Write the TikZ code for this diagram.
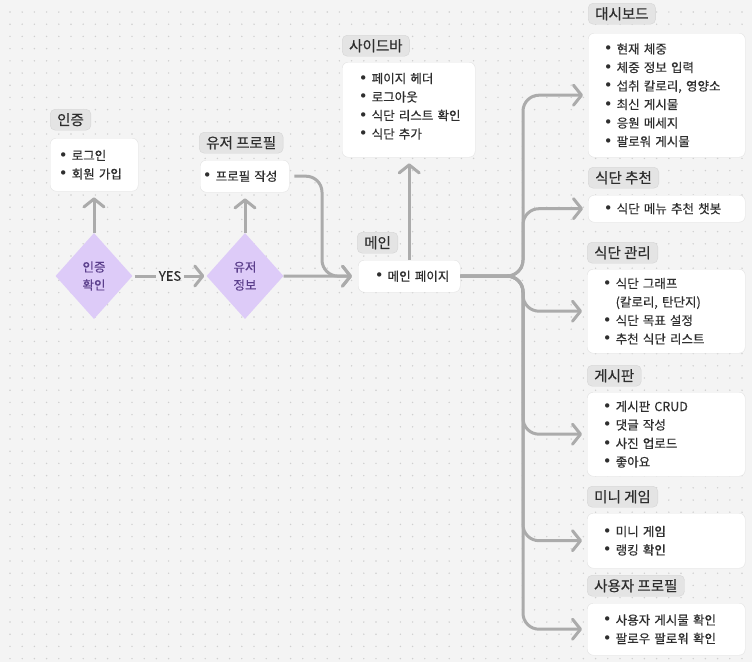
\documentclass[tikz,border=0pt]{standalone}
\usepackage{fontspec}
\setmainfont{Noto Sans CJK KR}[FakeBold=0.4]
\newfontfamily\dotfont{DejaVu Sans}
\usetikzlibrary{shapes.geometric,arrows.meta}
\definecolor{bgc}{HTML}{F4F4F4}
\definecolor{dotc}{HTML}{CFCFCF}
\definecolor{hdrfill}{HTML}{E4E4E4}
\definecolor{hdrline}{HTML}{D5D5D5}
\definecolor{boxline}{HTML}{E2E2E2}
\definecolor{txt}{HTML}{2E2E2E}
\definecolor{lnc}{HTML}{ABABAB}
\definecolor{decfill}{HTML}{DDCBF8}
\definecolor{dectxt}{HTML}{5B3F8C}
\newcommand{\itm}[1]{\mbox{\makebox[0pt]{\dotfont\fontsize{15}{10}\selectfont •}\hspace{8.5pt}#1}}
\begin{document}
\begin{tikzpicture}[x=1pt, y=-1pt,
	hdr/.style={draw=hdrline, fill=hdrfill, rounded corners=5pt, anchor=north west, inner xsep=7pt, inner ysep=0pt, minimum height=21pt, text=txt, font=\fontsize{14.5}{16}\selectfont},
	cbox/.style={draw=boxline, fill=white, rounded corners=6pt, anchor=north west, align=left, inner ysep=0pt, text=txt, font=\fontsize{12.5}{18.5}\selectfont},
	dec/.style={diamond, fill=decfill, text=dectxt, minimum width=77pt, minimum height=86pt, inner sep=0pt, align=center, font=\fontsize{12.5}{18}\selectfont},
	conn/.style={draw=lnc, line width=3pt, rounded corners=16pt, -{Straight Barb[length=8pt,width=20pt,round]}},
	plain/.style={draw=lnc, line width=3pt}]
	\fill[bgc] (0,0) rectangle (752,662);
	\useasboundingbox (0,0) rectangle (752,662);
	\foreach \i in {0,...,61}
		\foreach \j in {0,...,54}
			\fill[dotc] ({10+12.2*\i},{12+12.2*\j}) circle (0.8pt);
	\node[hdr] (authhdr) at (50,109) {인증};
	\node[cbox, inner xsep=13pt, text width=62pt, minimum height=53pt] (authbox) at (50,138) {\itm{로그인}\\\itm{회원 가입}};
	\node[hdr] (profhdr) at (199,132) {유저 프로필};
	\node[cbox, inner xsep=7pt, text width=75pt, minimum height=32pt] (profbox) at (200,160) {\itm{프로필 작성}};
	\node[hdr] (sidehdr) at (342,35) {사이드바};
	\node[cbox, inner xsep=21pt, text width=91pt, minimum height=95pt] (sidebox) at (342,62) {\itm{페이지 헤더}\\\itm{로그아웃}\\\itm{식단 리스트 확인}\\\itm{식단 추가}\\[-10.5pt]\mbox{}};
	\node[hdr] (mainhdr) at (357,232) {메인};
	\node[cbox, inner xsep=21pt, text width=60pt, minimum height=32pt] (mainbox) at (358,260) {\itm{메인 페이지}};
	\node[dec] (authchk) at (94,276) {인증\\확인};
	\node[dec] (userinfo) at (245,276) {유저\\정보};
	\node[text=txt, font=\fontsize{13}{14}\selectfont, inner xsep=3pt] (yes) at (170,276) {YES};
	\node[hdr] (dashhdr) at (588,3) {대시보드};
	\node[cbox, inner xsep=20pt, text width=117pt, minimum height=124pt] (dashbox) at (588,33) {\itm{현재 체중}\\\itm{체중 정보 입력}\\\itm{섭취 칼로리, 영양소}\\\itm{최신 게시물}\\\itm{응원 메세지}\\\itm{팔로워 게시물}};
	\node[hdr] (rechdr) at (588,167) {식단 추천};
	\node[cbox, inner xsep=20pt, text width=117pt, minimum height=27pt] (recbox) at (588,195) {\itm{식단 메뉴 추천 챗봇}};
	\node[hdr] (mgmthdr) at (587,242) {식단 관리};
	\node[cbox, inner xsep=20pt, text width=118pt, minimum height=84pt] (mgmtbox) at (587,269) {\itm{식단 그래프}\\\hspace*{8.5pt}(칼로리, 탄단지)\\\itm{식단 목표 설정}\\\itm{추천 식단 리스트}};
	\node[hdr] (boardhdr) at (587,365) {게시판};
	\node[cbox, inner xsep=20pt, text width=118pt, minimum height=84pt] (boardbox) at (587,392) {\itm{게시판 CRUD}\\\itm{댓글 작성}\\\itm{사진 업로드}\\\itm{좋아요}};
	\node[hdr] (gamehdr) at (587,486) {미니 게임};
	\node[cbox, inner xsep=20pt, text width=118pt, minimum height=55pt] (gamebox) at (587,513) {\itm{미니 게임}\\\itm{랭킹 확인}};
	\node[hdr] (userhdr) at (587,575) {사용자 프로필};
	\node[cbox, inner xsep=20pt, text width=118pt, minimum height=52pt] (userbox) at (587,603) {\itm{사용자 게시물 확인}\\\itm{팔로우 팔로워 확인}};
	\coordinate (bend) at (322,276);
	\coordinate (trunk) at (523,276);
	\draw[conn] (authchk.north) -- ([yshift=-6pt]authchk.north |- authbox.south);
	\draw[conn] (userinfo.north) -- ([yshift=-6pt]userinfo.north |- profbox.south);
	\draw[plain] ([xshift=2pt]authchk.east) -- (yes.west);
	\draw[conn] (yes.east) -- ([xshift=-2pt]userinfo.west);
	\draw[conn] (userinfo.east) -- ([xshift=-6pt]mainbox.west);
	\draw[conn] ([xshift=5pt]profbox.east) -| (bend) -- ([xshift=-6pt]mainbox.west);
	\draw[conn] (mainbox.north) -- ([yshift=-6pt]mainbox.north |- sidebox.south);
	\foreach \t in {dashbox,recbox,mgmtbox,boardbox,gamebox,userbox}
		\draw[conn] (mainbox.east) -- (trunk) |- ([xshift=-5pt]\t.west);
\end{tikzpicture}
\end{document}
